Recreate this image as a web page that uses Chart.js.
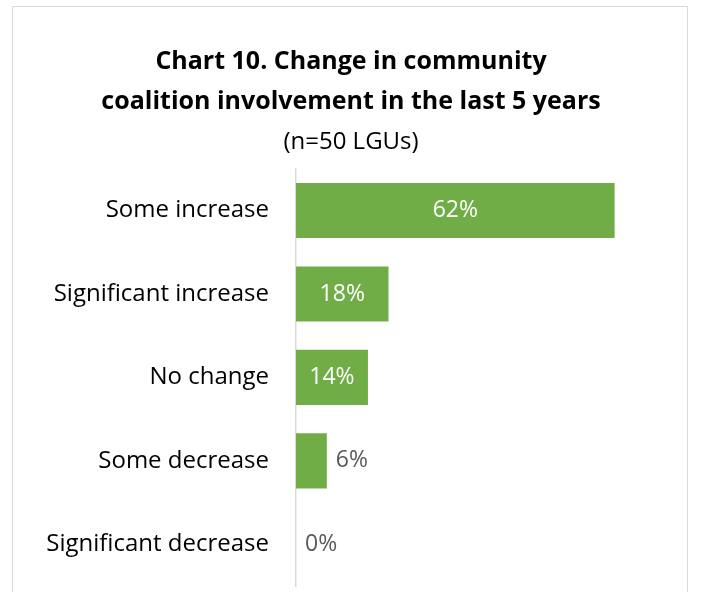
<!DOCTYPE html>
<html lang="en">
<head>
    <meta charset="UTF-8">
    <title>Chart 10</title>
    <style>
        body {
            margin: 0;
            background-color: #fff;
            font-family: "Open Sans", sans-serif;
        }

        .frame {
            position: absolute;
            left: 12px;
            top: 6px;
            width: 674px;
            height: 600px;
            border: 1px solid #d9d9d9;
        }

        canvas {
            position: absolute;
            left: 0;
            top: 0;
        }
    </style>
    <script src="https://cdn.jsdelivr.net/npm/chart.js"></script>
</head>
<body>
    <div class="frame"></div>
    <canvas id="myChart" width="702" height="592"></canvas>
    <script>
        const categories = ['Some increase', 'Significant increase', 'No change', 'Some decrease', 'Significant decrease'];
        const percents = [62, 18, 14, 6, 0];
        const titleLines = ['Chart 10. Change in community', 'coalition involvement in the last 5 years'];
        const subtitleText = '(n=50 LGUs)';

        const barGreen = '#70ad47';

        // value labels: white inside wide bars, grey just past short ones
        const valueLabels = {
            id: 'valueLabels',
            afterDatasetsDraw(chart) {
                const ctx = chart.ctx;
                const meta = chart.getDatasetMeta(0);
                ctx.save();
                ctx.font = '23px "Open Sans"';
                ctx.textBaseline = 'middle';
                meta.data.forEach((bar, i) => {
                    const text = percents[i] + '%';
                    const w = ctx.measureText(text).width;
                    const barW = bar.x - bar.base;
                    if (barW > w + 16) {
                        ctx.fillStyle = '#ffffff';
                        ctx.textAlign = 'center';
                        ctx.fillText(text, bar.base + barW / 2, bar.y);
                    } else {
                        ctx.fillStyle = '#595959';
                        ctx.textAlign = 'left';
                        ctx.fillText(text, bar.x + 9, bar.y);
                    }
                });
                ctx.restore();
            }
        };

        const ctx = document.getElementById('myChart').getContext('2d');
        const myChart = new Chart(ctx, {
            type: 'bar',
            data: {
                labels: categories,
                datasets: [{
                    data: percents,
                    backgroundColor: barGreen,
                    borderWidth: 0,
                    categoryPercentage: 1,
                    barPercentage: 0.66
                }]
            },
            options: {
                indexAxis: 'y',
                responsive: false,
                animation: false,
                layout: {
                    padding: { left: 0, right: 0, top: 0, bottom: 6 }
                },
                scales: {
                    x: {
                        display: false,
                        min: 0,
                        max: 79
                    },
                    y: {
                        grid: { display: false },
                        border: { display: true, color: '#d9d9d9', width: 1.5 },
                        ticks: {
                            color: '#000000',
                            padding: 19,
                            font: { family: 'Open Sans', size: 24 }
                        },
                        afterFit(scale) {
                            scale.width = 296;
                            scale.paddingTop = 0;
                            scale.paddingBottom = 0;
                        }
                    }
                },
                plugins: {
                    legend: { display: false },
                    tooltip: { enabled: false },
                    title: {
                        display: true,
                        text: titleLines,
                        color: '#000000',
                        font: { family: 'Open Sans', size: 25, weight: 'bold', lineHeight: 1.6 },
                        padding: { top: 42, bottom: 0 }
                    },
                    subtitle: {
                        display: true,
                        text: subtitleText,
                        color: '#000000',
                        font: { family: 'Open Sans', size: 24, lineHeight: 1.2 },
                        padding: { top: 6, bottom: 12 }
                    }
                }
            },
            plugins: [valueLabels]
        });
    </script>
</body>
</html>
